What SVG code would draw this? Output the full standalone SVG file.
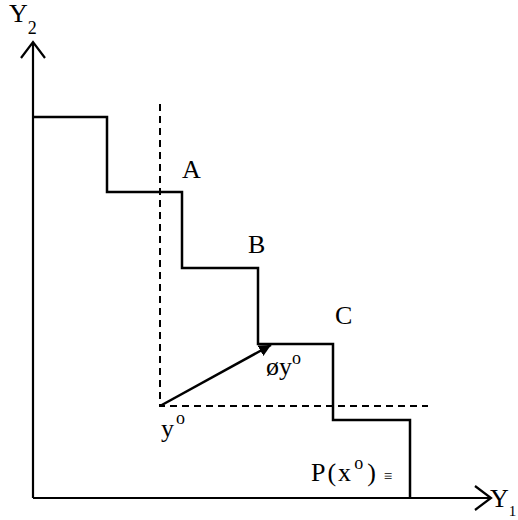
<svg xmlns="http://www.w3.org/2000/svg" width="518" height="520" viewBox="0 0 518 520">
<style>
.ax{stroke:#000;stroke-width:2.2;fill:none}
.st{stroke:#000;stroke-width:2.5;fill:none}
.ds{stroke:#000;stroke-width:2;fill:none;stroke-dasharray:7,5}
text{font-family:"Liberation Serif","Times New Roman",serif;font-size:26px;fill:#000}
.sub{font-size:18px}
.sm{font-size:15px}
</style>
<defs>
<marker id="ah" markerWidth="12" markerHeight="12" refX="10" refY="5" orient="auto" markerUnits="userSpaceOnUse" viewBox="0 0 10 10">
<path d="M0,0 L10,5 L0,10 Z" fill="#000"/>
</marker>
</defs>
<rect width="518" height="520" fill="#fff"/>
<g id="axes">
<path class="ax" d="M33,498 V42 M21,58 L33,42 L45,58"/>
<path class="ax" d="M33,498 H491 M475,486 L491,498 L475,510"/>
</g>
<g id="staircase">
<path class="st" d="M33,117 H107 V192 H182 V268 H258 V344 H333 V420 H410 V498"/>
</g>
<g id="connectors">
<path class="ds" d="M160,104 V406 H428"/>
<line x1="160" y1="406" x2="271" y2="345" stroke="#000" stroke-width="2.5" marker-end="url(#ah)"/>
</g>
<g id="labels">
<text x="9" y="22">Y<tspan class="sub" dy="12">2</tspan></text>
<text x="490" y="507">Y<tspan style="font-size:15px" dy="9">1</tspan></text>
<text x="182" y="178">A</text>
<text x="248" y="253">B</text>
<text x="335" y="324">C</text>
<text x="266" y="375">øy<tspan class="sub" dy="-11">o</tspan></text>
<text x="161" y="437">y<tspan class="sub" dx="2" dy="-13">o</tspan></text>
<text x="311" y="481" letter-spacing="2">P(x<tspan class="sub" dx="1" dy="-12">o</tspan><tspan dx="2" dy="12">)</tspan><tspan class="sm" dx="6">≡</tspan></text>
</g>
</svg>
